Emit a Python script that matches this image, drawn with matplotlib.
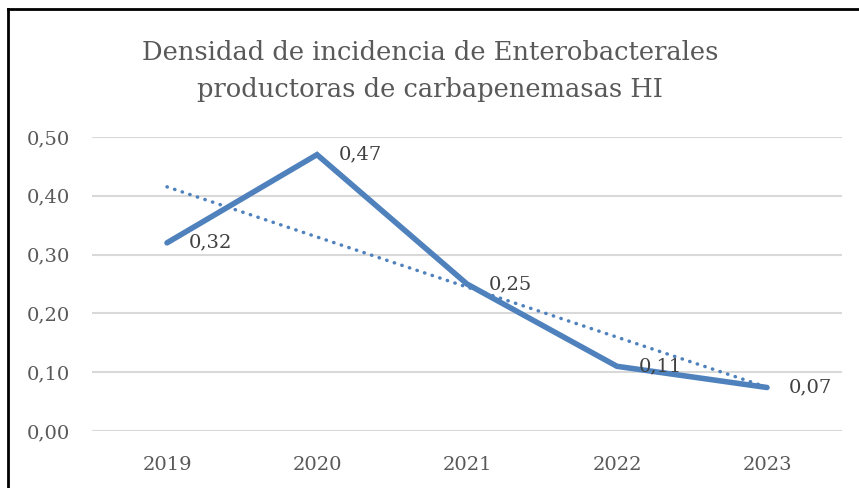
import matplotlib
matplotlib.use("Agg")
import matplotlib.pyplot as plt
import numpy as np
from matplotlib.lines import Line2D

years = ["2019", "2020", "2021", "2022", "2023"]
values = [0.32, 0.47, 0.25, 0.11, 0.074]
labels = ["0,32", "0,47", "0,25", "0,11", "0,07"]
yticks = [0.0, 0.1, 0.2, 0.3, 0.4, 0.5]
ytick_labels = ["0,00", "0,10", "0,20", "0,30", "0,40", "0,50"]
title = "Densidad de incidencia de Enterobacterales\nproductoras de carbapenemasas HI"

FONT = "DejaVu Serif"
LINE = "#4F81BD"
TXT = "#595959"

fig = plt.figure(figsize=(8.59, 4.88), dpi=100)
ax = fig.add_axes([92/859, 1-431/488, (842-92)/859, (431-137)/488])

x = np.arange(len(years))
ax.plot(x, values, color=LINE, lw=4.0, solid_capstyle="round", solid_joinstyle="miter", zorder=3)

# linear trendline
coef = np.polyfit(x, values, 1)
ax.plot(x, np.polyval(coef, x), color=LINE, lw=2.5, linestyle=(0, (0.1, 2.2)),
        dash_capstyle="round", zorder=2)

for xi, v, lab in zip(x, values, labels):
    ax.annotate(lab, (xi, v), xytext=(22, 0), textcoords="offset pixels",
                ha="left", va="center", fontsize=14, family=FONT, color="#404040", zorder=4)

ax.set_xlim(-0.5, len(years) - 0.5)
ax.set_ylim(0, 0.5)
ax.set_yticks(yticks)
ax.set_yticklabels(ytick_labels)
ax.set_xticks(x)
ax.set_xticklabels(years)
for lbl in ax.get_xticklabels() + ax.get_yticklabels():
    lbl.set_family(FONT)
    lbl.set_fontsize(14)
    lbl.set_color(TXT)
ax.tick_params(length=0)
ax.tick_params(axis="y", pad=16)
ax.tick_params(axis="x", pad=18)
ax.grid(axis="y", color="#D9D9D9", lw=1.5)
ax.set_axisbelow(True)
for s in ax.spines.values():
    s.set_visible(False)

fig.text(430/859, 1-70.5/488, title, ha="center", va="center", fontsize=18.5,
         family=FONT, color=TXT, linespacing=1.6)

# outer frame (left and top visible)
fig.add_artist(Line2D([8/859, 8/859], [0, 1-8.5/488], transform=fig.transFigure, color="black", lw=2))
fig.add_artist(Line2D([8/859, 1], [1-8.5/488, 1-8.5/488], transform=fig.transFigure, color="black", lw=2))

fig.savefig("out.png", dpi=100)
